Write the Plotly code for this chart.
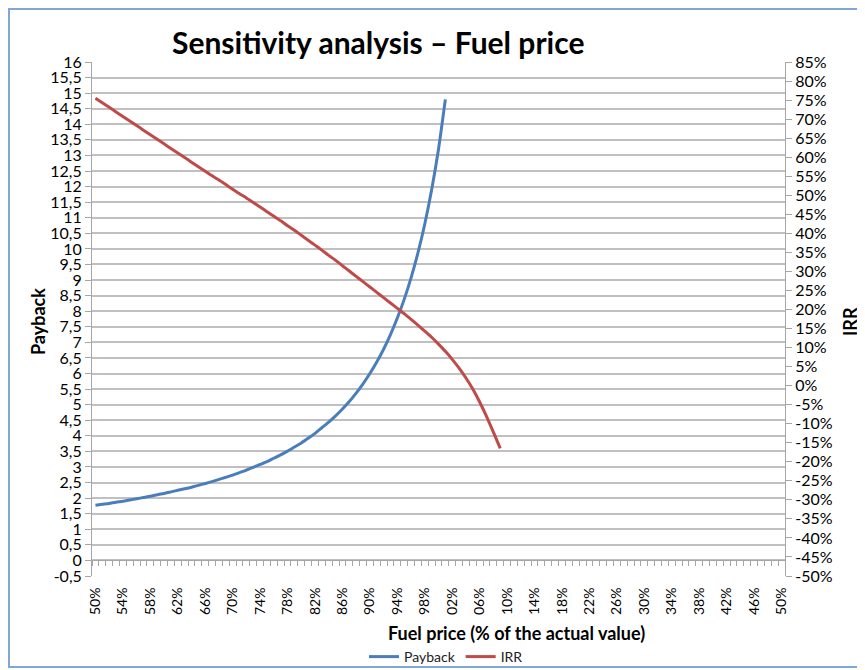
import plotly.graph_objects as go

# Fuel price, % of the actual value (one category per percent)
fuel_price_payback = list(range(50, 102))
fuel_price_irr = list(range(50, 110))

# Payback (years)
payback = [
    1.77, 1.80, 1.83, 1.87, 1.90, 1.94, 1.98, 2.02, 2.06, 2.11,
    2.15, 2.20, 2.25, 2.30, 2.35, 2.41, 2.47, 2.53, 2.60, 2.67,
    2.74, 2.82, 2.90, 2.99, 3.08, 3.17, 3.28, 3.39, 3.51, 3.64,
    3.77, 3.92, 4.08, 4.26, 4.44, 4.64, 4.86, 5.10, 5.37, 5.67,
    6.00, 6.37, 6.78, 7.25, 7.78, 8.38, 9.07, 9.87, 10.80, 11.90,
    13.20, 14.80,
]

# IRR (%)
irr = [
    75.5, 74.3, 73.1, 71.9, 70.7, 69.5, 68.3, 67.1, 65.9, 64.7,
    63.5, 62.3, 61.1, 59.9, 58.7, 57.5, 56.3, 55.1, 54.0, 52.8,
    51.6, 50.4, 49.3, 48.1, 46.9, 45.7, 44.5, 43.3, 42.0, 40.8,
    39.5, 38.2, 36.9, 35.6, 34.2, 32.9, 31.5, 30.1, 28.7, 27.3,
    25.9, 24.5, 23.1, 21.7, 20.3, 18.9, 17.4, 15.9, 14.3, 12.7,
    10.9, 9.0, 6.9, 4.6, 2.0, -0.9, -4.3, -8.1, -12.2, -16.5,
]

# tick labels as printed on the chart (hundreds are cut off there)
x_tickvals = list(range(50, 151, 4))
x_ticktext = [f"{v % 100:02d}%" if v >= 100 else f"{v}%" for v in x_tickvals]
payback_ticks = [v / 2 for v in range(-1, 33)]
payback_ticktext = [f"{v:g}".replace(".", ",") for v in payback_ticks]
irr_ticks = list(range(-50, 86, 5))
irr_ticktext = [f"{v}%" for v in irr_ticks]

FONT = "Lato"
GRID = "#c0c0c0"
AXIS = "#a6a6a6"

W, H = 865, 670
# the page keeps an 8px body margin, so figure coords = screen coords - 8
# plot area on screen: x 92..785, y 62..576
L, T = 84, 54
R, B = W - 777, H - 568
pw, ph = W - L - R, H - T - B


def px(x):  # figure pixel x -> paper x
    return (x - L) / pw


def py(y):  # figure pixel y -> paper y
    return (H - B - y) / ph


def label(text, x, y, size, angle=0):
    return dict(text=text, x=px(x), y=py(y), xref="paper", yref="paper",
                xanchor="center", yanchor="middle", textangle=angle,
                showarrow=False, font=dict(family=FONT, size=size, color="#000000"))


fig = go.Figure()

fig.add_trace(go.Scatter(
    x=fuel_price_payback, y=payback, name="Payback", mode="lines",
    line=dict(color="#4a7ebb", width=3, shape="spline", smoothing=0.6),
))
fig.add_trace(go.Scatter(
    x=fuel_price_irr, y=irr, name="IRR", mode="lines", yaxis="y2",
    line=dict(color="#be4b48", width=3, shape="spline", smoothing=0.6),
))
# carrier for the category axis drawn at payback = 0
fig.add_trace(go.Scatter(x=[], y=[], xaxis="x2", showlegend=False, hoverinfo="skip"))

fig.update_layout(
    template="none",
    width=W, height=H,
    margin=dict(l=L, r=R, t=T, b=B, autoexpand=False),
    paper_bgcolor="white", plot_bgcolor="white",
    font=dict(family=FONT, color="#000000"),
    showlegend=True,
    legend=dict(
        orientation="h", x=px(438), y=py(649), xanchor="center", yanchor="middle",
        font=dict(family=FONT, size=14, color="#222222"),
        tracegroupgap=0, bgcolor="rgba(0,0,0,0)",
    ),
    xaxis=dict(
        range=[49.5, 150.5], showgrid=False, zeroline=False, showline=False,
        automargin=False,
        tickmode="array", tickvals=x_tickvals, ticktext=x_ticktext,
        tickangle=-90, ticks="outside", ticklen=5, tickcolor="rgba(0,0,0,0)",
        tickfont=dict(family=FONT, size=14, color="#000000"),
    ),
    xaxis2=dict(
        range=[49.5, 150.5], overlaying="x", anchor="free",
        position=(0 - (-0.5)) / 16.5, automargin=False,
        showgrid=False, zeroline=False, showline=True, linecolor=AXIS, linewidth=1,
        ticks="outside", tick0=49.5, dtick=1, ticklen=5, tickcolor=AXIS,
        showticklabels=False,
    ),
    yaxis=dict(
        range=[-0.5, 16], zeroline=False, automargin=False,
        tickmode="array", tickvals=payback_ticks, ticktext=payback_ticktext,
        showgrid=True, gridcolor=GRID, gridwidth=1.5,
        showline=True, linecolor=AXIS, linewidth=1,
        ticks="outside", ticklen=6, tickcolor=AXIS,
        tickfont=dict(family=FONT, size=16, color="#000000"),
    ),
    yaxis2=dict(
        range=[-50, 85], overlaying="y", side="right", zeroline=False,
        automargin=False,
        tickmode="array", tickvals=irr_ticks, ticktext=irr_ticktext,
        showgrid=False, showline=True, linecolor=AXIS, linewidth=1,
        ticks="outside", ticklen=6, tickcolor=AXIS,
        tickfont=dict(family=FONT, size=16, color="#000000"),
    ),
    annotations=[
        label("<b>Sensitivity analysis – Fuel price</b>", 370, 34, 30),
        label("<b>Payback</b>", 30, 314, 18, -90),
        label("<b>IRR</b>", 842, 314, 18, -90),
        label("<b>Fuel price (% of the actual value)</b>", 508, 625, 18),
    ],
    shapes=[
        dict(type="rect", xref="paper", yref="paper",
             x0=px(1), x1=px(857), y0=py(659), y1=py(1),
             line=dict(color="#7fa6d6", width=2), fillcolor="rgba(0,0,0,0)",
             layer="below"),
    ],
)

fig.write_html("out.html")
